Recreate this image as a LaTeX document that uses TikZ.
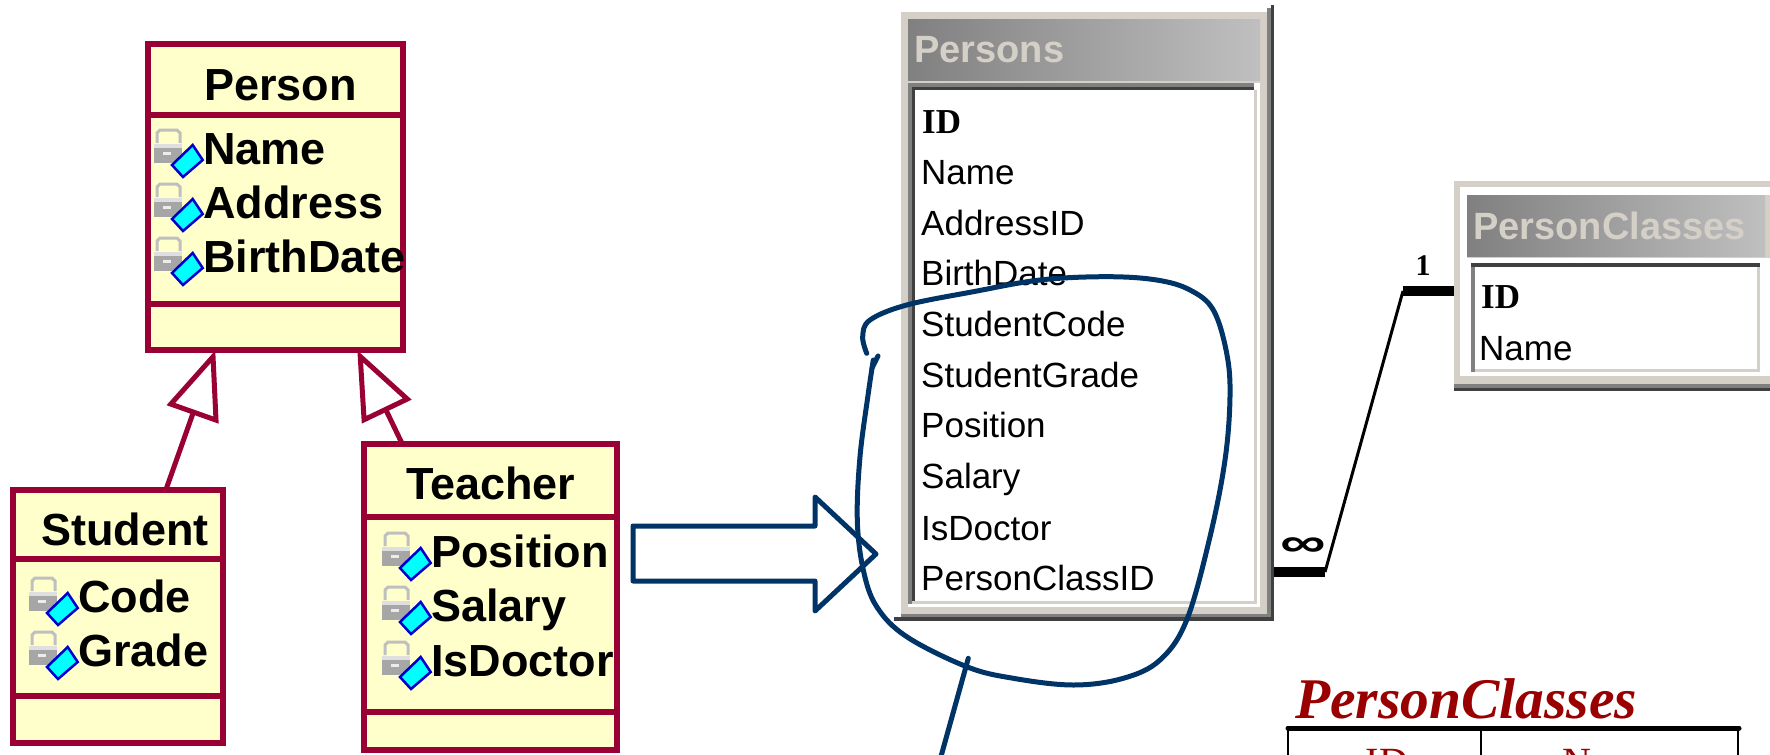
\documentclass[tikz,border=0pt]{standalone}
\usepackage{fontspec}
\setmainfont{Liberation Sans}
\newfontfamily\tableface{Liberation Serif}
\usetikzlibrary{arrows.meta}
\definecolor{umlred}{HTML}{990033}
\definecolor{umlfill}{HTML}{FFFFCC}
\definecolor{navyline}{HTML}{003366}
\definecolor{winface}{HTML}{D4D0C8}
\definecolor{windark}{HTML}{404040}
\definecolor{wingray}{HTML}{808080}
\definecolor{tablered}{HTML}{990000}
\definecolor{gemfill}{HTML}{00FFFF}
\definecolor{gemline}{HTML}{0000CC}
\tikzset{
	classbox/.style={draw=umlred,fill=umlfill,line width=6pt,inner sep=0pt,outer sep=0pt},
	divider/.style={draw=umlred,line width=6pt},
	classname/.style={anchor=base west,inner sep=0pt,font=\fontsize{45pt}{45pt}\selectfont\bfseries},
	attrname/.style={classname},
	fieldname/.style={anchor=base west,inner sep=0pt,font=\fontsize{35pt}{35pt}\selectfont},
	keyname/.style={anchor=base west,inner sep=0pt,font=\tableface\fontsize{35pt}{35pt}\selectfont\bfseries},
	wintitle/.style={anchor=base west,inner sep=0pt,text=winface,font=\fontsize{38pt}{38pt}\selectfont\bfseries},
	winframe/.style={fill=winface,inner sep=0pt,outer sep=0pt},
	inherit/.style={draw=umlred,line width=5pt,-{Triangle[open,fill=white,length=68pt,width=54pt]}},
	heavyline/.style={line width=10pt},
	thinline/.style={line width=3pt},
	handline/.style={draw=navyline,line width=5pt,line cap=round,line join=round},
	attricon/.pic={
		\draw[color=gray!50,line width=3pt] (3,-5) -- (3,-15) -- (6,-18) -- (23,-18) -- (26,-15) -- (26,-5);
		\fill[color=gray!70] (0,-4) rectangle (28,15);
		\fill[color=gray!25] (0,-4) rectangle (28,0);
		\fill[color=white!85!gray] (9,4) rectangle (17,7);
		\fill[color=gemfill] (38.7,-3) -- (48.7,12) -- (29,29) -- (18,17) -- cycle;
		\draw[color=gemline,line width=2.5pt] (38.7,-3) -- (48.7,12) -- (29,29) -- (18,17) -- cycle;
	},
}
\begin{document}
\begin{tikzpicture}[x=1pt,y=-1pt]
	\path[use as bounding box,clip] (0,0) rectangle (1770,755);

	% class diagram
	\node[classbox,minimum width=255.5pt,minimum height=306.7pt] (person) at (275.3,197) {};
	\node[classbox,minimum width=210.5pt,minimum height=253pt] (student) at (118,616) {};
	\node[classbox,minimum width=252.5pt,minimum height=306pt] (teacher) at (490.3,597) {};
	\draw[divider] (person.west |- 0,115) -- (person.east |- 0,115);
	\draw[divider] (person.west |- 0,304) -- (person.east |- 0,304);
	\draw[divider] (student.west |- 0,559) -- (student.east |- 0,559);
	\draw[divider] (student.west |- 0,696) -- (student.east |- 0,696);
	\draw[divider] (teacher.west |- 0,517) -- (teacher.east |- 0,517);
	\draw[divider] (teacher.west |- 0,712) -- (teacher.east |- 0,712);
	\draw[inherit] ([xshift=48pt]student.north) -- ([xshift=-60pt]person.south);
	\draw[inherit] ([xshift=-88pt]teacher.north) -- ([xshift=82pt]person.south);

	\node[classname] (persontitle) at (204,100) {Person};
	\pic at (154,148) {attricon};
	\pic at (154,202) {attricon};
	\pic at (154,256) {attricon};
	\node[attrname] (personname) at (203,164) {Name};
	\node[attrname] (personaddress) at (203,218) {Address};
	\node[attrname] (personbirth) at (203,272) {BirthDate};

	\node[classname] (studenttitle) at (41,545) {Student};
	\pic at (29,596) {attricon};
	\pic at (29,650) {attricon};
	\node[attrname] (studentcode) at (78,612) {Code};
	\node[attrname] (studentgrade) at (78,666) {Grade};

	\node[classname] (teachertitle) at (406,499) {Teacher};
	\pic at (382,551) {attricon};
	\pic at (382,605) {attricon};
	\pic at (382,660) {attricon};
	\node[attrname] (teacherposition) at (431,567) {Position};
	\node[attrname] (teachersalary) at (431,621) {Salary};
	\node[attrname] (teacherdoctor) at (431,676) {IsDoctor};

	% Persons window
	\fill[color=windark] (1271,5) rectangle (1274,620.5);
	\fill[color=wingray] (1267,8) rectangle (1271,617);
	\fill[color=windark] (894,617) rectangle (1274,620.5);
	\fill[color=wingray] (901,614) rectangle (1271,617);
	\node[winframe,minimum width=366pt,minimum height=602pt] (persons) at (1084,313) {};
	\shade[left color=wingray,right color=gray!50] (908,19) rectangle (1260,80);
	\fill[color=white] (908,83) rectangle (1260,607);
	\fill[color=wingray] (908,83) rectangle (1254,604);
	\fill[color=windark] (912,87) rectangle (1254,604);
	\fill[color=winface] (912,601) rectangle (1257,604);
	\fill[color=winface] (1254,90) rectangle (1257,604);
	\fill[color=white] (915,90) rectangle (1254,601);
	\node[wintitle] (personstitle) at (914,62) {Persons};
	\node[keyname] (idfield) at (922,133) {ID};
	\node[fieldname] (namefield) at (921,184) {Name};
	\node[fieldname] (addressfield) at (921,235) {AddressID};
	\node[fieldname] (birthfield) at (921,285) {BirthDate};
	\node[fieldname] (codefield) at (921,336) {StudentCode};
	\node[fieldname] (gradefield) at (921,387) {StudentGrade};
	\node[fieldname] (positionfield) at (921,437) {Position};
	\node[fieldname] (salaryfield) at (921,488) {Salary};
	\node[fieldname] (doctorfield) at (921,540) {IsDoctor};
	\node[fieldname] (classfield) at (921,590) {PersonClassID};

	% PersonClasses window
	\fill[color=windark] (1454,388) rectangle (1775,391);
	\fill[color=wingray] (1454,384) rectangle (1775,388);
	\node[winframe,minimum width=321pt,minimum height=203pt] (personclasses) at (1614.5,282.5) {};
	\fill[color=white] (1460,187) rectangle (1775,376);
	\fill[color=winface] (1467,195) rectangle (1775,258);
	\shade[left color=wingray,right color=gray!50] (1467,195) rectangle (1765,256);
	\fill[color=winface] (1460,376) rectangle (1775,384);
	\fill[color=windark] (1471,263) rectangle (1760,372);
	\fill[color=wingray] (1471,267) rectangle (1475,372);
	\fill[color=winface] (1475,267) rectangle (1760,372);
	\fill[color=white] (1475,267) rectangle (1757,369);
	\node[wintitle] (classestitle) at (1473,239) {PersonClasses};
	\node[keyname] (classid) at (1481,308) {ID};
	\node[fieldname] (classname) at (1479,360) {Name};

	% relationship
	\coordinate (manyend) at (1325,572);
	\coordinate (oneend) at (1403,291);
	\draw[heavyline] ([xshift=7pt]persons.east |- manyend) -- (manyend);
	\draw[heavyline] (oneend) -- (personclasses.west |- oneend);
	\draw[thinline] (manyend) -- (oneend);
	\node[inner sep=0pt,font=\fontsize{40pt}{40pt}\selectfont\bfseries] (manylabel) at (1303,547) {\scalebox{1.6}[1]{∞}};
	\node[inner sep=0pt,font=\tableface\fontsize{30pt}{30pt}\selectfont\bfseries] (onelabel) at (1423,266) {1};

	% relational table
	\node[anchor=base west,inner sep=0pt,text=tablered,font=\tableface\fontsize{57.5pt}{57.5pt}\selectfont\itshape\bfseries] (tabletitle) at (1295,718) {PersonClasses};
	\draw[line width=5pt,line cap=round] (1288,728) -- (1739,728);
	\draw[line width=2.5pt] (1288,728) -- (1288,760);
	\draw[line width=2.5pt] (1481,728) -- (1481,760);
	\draw[line width=2.5pt] (1738,728) -- (1738,760);
	\node[anchor=base,inner sep=0pt,text=tablered,font=\tableface\fontsize{40pt}{40pt}\selectfont] (tableid) at (1387,775) {ID};
	\node[anchor=base,inner sep=0pt,text=tablered,font=\tableface\fontsize{40pt}{40pt}\selectfont] (tablename) at (1610,775) {Name};

	% hand drawn marks
	\draw[handline,fill=white] (633,526) -- (815,526) -- (815,497) -- (876,554) -- (815,611) -- (815,581) -- (633,581) -- cycle;
	\draw[handline] plot[smooth,tension=0.6] coordinates {(866.7,353.3) (862.7,336.7) (870,320) (906.7,305) (973.3,291.7) (1040,280) (1106.7,276.7) (1156.7,280) (1190,290) (1213.3,310) (1226.7,353.3) (1230,396.7) (1225,460) (1210,536.7) (1186.7,620) (1160,660) (1123.3,678.3) (1073.3,685) (1013.3,678.3) (966.7,666.7) (906.7,636.7) (876.7,606.7) (863.3,570) (857.3,520) (860,456.7) (868.3,393.3) (873.3,360)};
	\draw[handline] (878,356) -- (872,368);
	\draw[handline] (968.3,658.3) -- (940,760);
\end{tikzpicture}
\end{document}
